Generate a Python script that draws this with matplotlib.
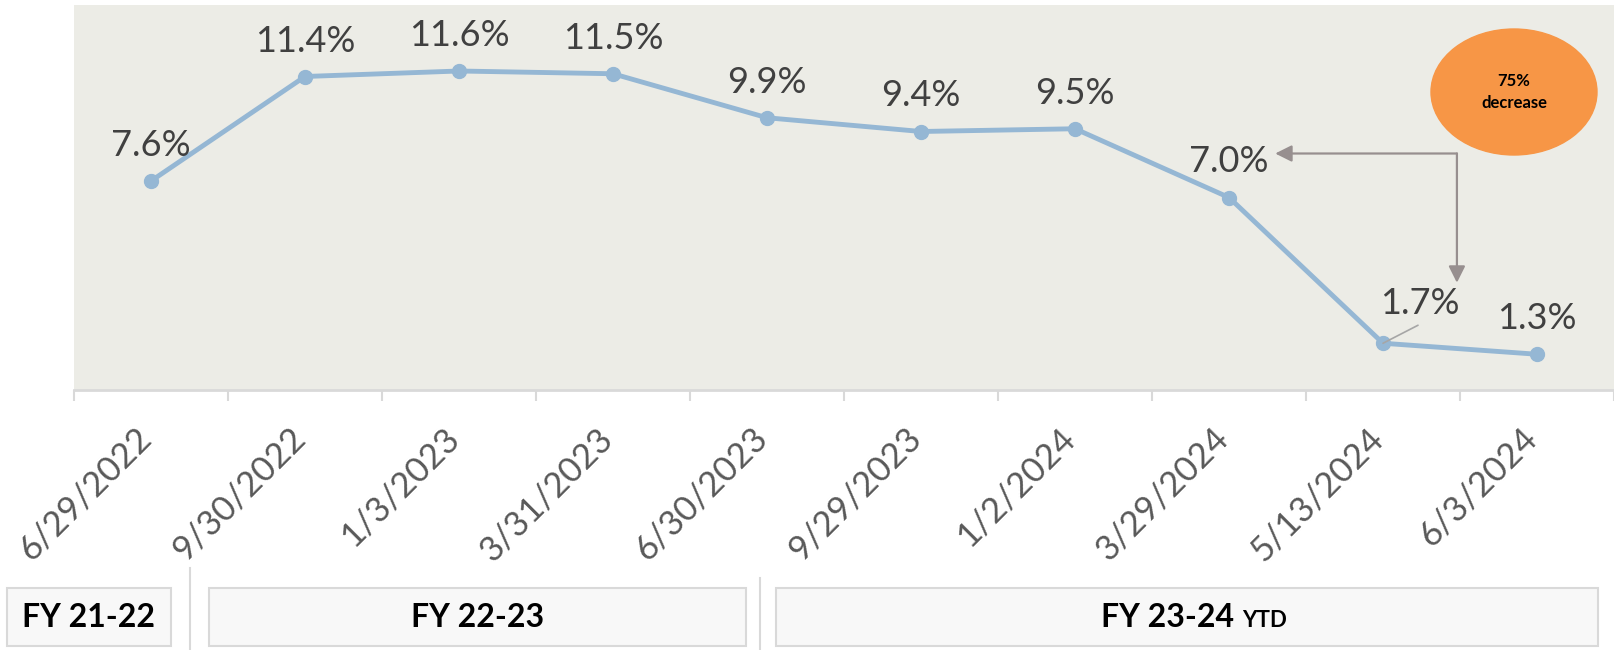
import numpy as np
import matplotlib
matplotlib.use("Agg")
from matplotlib import pyplot as plt
from matplotlib.patches import Rectangle, Ellipse
from matplotlib.lines import Line2D
from matplotlib.transforms import ScaledTranslation
from matplotlib import font_manager

# data
dates = ['6/29/2022', '9/30/2022', '1/3/2023', '3/31/2023', '6/30/2023',
         '9/29/2023', '1/2/2024', '3/29/2024', '5/13/2024', '6/3/2024']
rates = [7.6, 11.4, 11.6, 11.5, 9.9, 9.4, 9.5, 7.0, 1.7, 1.3]
fiscal_years = ['FY 21-22', 'FY 22-23', 'FY 23-24']

W, H = 1614, 650
names = {f.name for f in font_manager.fontManager.ttflist}
label_font = 'Lato' if 'Lato' in names else 'DejaVu Sans'
box_font = label_font

line_col = '#95B7D4'
grey_txt = '#404040'

fig = plt.figure(figsize=(W / 100, H / 100), dpi=100)
ax = fig.add_axes([74 / W, 1 - 390 / H, 1 - 74 / W, (390 - 5) / H])
ax.set_facecolor('#ECECE6')

x = np.arange(len(rates))
ax.plot(x, rates, color=line_col, lw=3.5, marker='o', ms=10, mec=line_col, mfc=line_col, zorder=3)
ax.set_xlim(-0.5, len(rates) - 0.5)
ax.set_ylim(0, 14)

# data labels
for i, v in enumerate(rates):
    if dates[i] == '5/13/2024':
        ax.annotate('%.1f%%' % v, (i, v), xytext=(37, 29), textcoords='offset pixels',
                    ha='center', va='baseline', fontsize=26, color=grey_txt, family=label_font)
        ax.annotate('', (i, v), xytext=(35, 18), textcoords='offset pixels',
                    arrowprops=dict(arrowstyle='-', color='#A6A6A6', lw=1.2, shrinkA=0, shrinkB=0))
    else:
        ax.annotate('%.1f%%' % v, (i, v), xytext=(0, 25), textcoords='offset pixels',
                    ha='center', va='baseline', fontsize=26, color=grey_txt, family=label_font)

# axes styling
for s in ['top', 'left', 'right']:
    ax.spines[s].set_visible(False)
ax.spines['bottom'].set_color('#D9D9D9')
ax.spines['bottom'].set_linewidth(2)
ax.set_yticks([])
ax.set_xticks(x)
ax.set_xticks(np.arange(len(rates) + 1) - 0.5, minor=True)
ax.tick_params(axis='x', which='major', length=0, pad=23)
ax.tick_params(axis='x', which='minor', length=8, width=1.5, color='#D9D9D9')
ax.set_xticklabels(dates, rotation=45, ha='right', va='top', fontsize=25,
                   color='#595959', family=label_font)
for lbl in ax.get_xticklabels():
    lbl.set_transform(lbl.get_transform() + ScaledTranslation(6 / 100, 0, fig.dpi_scale_trans))

# 75% decrease callout
arrow_col = '#978F8F'
corner = (8.48, 8.6)
ax.annotate('', xy=(7.30, 8.6), xytext=corner,
            arrowprops=dict(arrowstyle='-|>,head_length=1.0,head_width=0.5', color=arrow_col,
                            lw=1.6, shrinkA=0, shrinkB=0))
ax.annotate('', xy=(8.48, 3.9), xytext=corner,
            arrowprops=dict(arrowstyle='-|>,head_length=1.0,head_width=0.5', color=arrow_col,
                            lw=1.6, shrinkA=0, shrinkB=0))


def px(xp, yp):
    return xp / W, 1 - yp / H


ell = Ellipse(px(1514, 92), 166 / W, 126 / H, transform=fig.transFigure, color='#F79646', zorder=5)
fig.add_artist(ell)
fig.text(*px(1514, 92), '75%\ndecrease', ha='center', va='center', fontsize=12, family=label_font,
         fontweight='bold', color='black', linespacing=1.4, zorder=6)

# fiscal year boxes under the axis
boxes = [(7, 171), (209, 746), (776, 1598)]
for (x0, x1), fy in zip(boxes, fiscal_years):
    r = Rectangle(px(x0, 646), (x1 - x0) / W, 58 / H, transform=fig.transFigure,
                  facecolor='#F8F8F8', edgecolor='#D9D9D9', lw=1.5)
    fig.add_artist(r)
    if fy == 'FY 23-24':
        fig.text(*px(1234, 627), fy, ha='right', va='baseline', fontsize=23, fontweight='bold', family=box_font)
        fig.text(*px(1242, 627), 'YTD', ha='left', va='baseline', fontsize=16, fontweight='bold', family=box_font)
    else:
        fig.text(*px((x0 + x1) / 2, 627), fy, ha='center', va='baseline', fontsize=23,
                 fontweight='bold', family=box_font)

for xs, ytop in [(190, 568), (760, 578)]:
    fig.add_artist(Line2D([xs / W, xs / W], [1 - ytop / H, 0], transform=fig.transFigure,
                          color='#D9D9D9', lw=1.5))

fig.savefig('out.png', dpi=100)
